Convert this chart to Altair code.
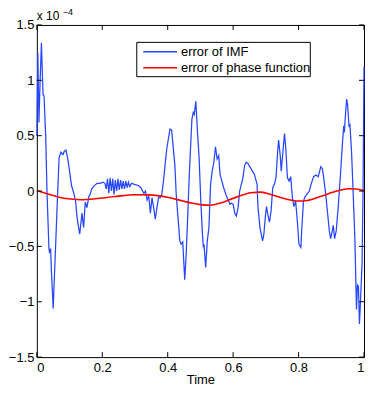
import altair as alt
import pandas as pd

# ---- data (error values in units of 1e-4) ----
t_imf = [
    0.000, 0.003, 0.0065, 0.009, 0.014, 0.019, 0.022, 0.027, 0.031, 0.037,
    0.039, 0.042, 0.045, 0.050, 0.054, 0.058, 0.0625, 0.068, 0.0735, 0.080,
    0.084, 0.089, 0.094, 0.099, 0.106, 0.111, 0.118, 0.123, 0.131, 0.138,
    0.143, 0.148, 0.153, 0.159, 0.163, 0.168, 0.173, 0.184, 0.193, 0.202,
    0.208, 0.212, 0.216, 0.220, 0.224, 0.228, 0.232, 0.236, 0.240, 0.244,
    0.248, 0.252, 0.256, 0.260, 0.264, 0.268, 0.272, 0.276, 0.280, 0.284,
    0.290, 0.298, 0.310, 0.318, 0.327, 0.332, 0.337, 0.342, 0.347, 0.352,
    0.357, 0.362, 0.367, 0.372, 0.377, 0.382, 0.387, 0.397, 0.407, 0.412,
    0.422, 0.426, 0.437, 0.441, 0.446, 0.452, 0.456, 0.461, 0.466, 0.474,
    0.478, 0.481, 0.486, 0.491, 0.496, 0.501, 0.506, 0.509, 0.511, 0.516,
    0.521, 0.526, 0.531, 0.536, 0.541, 0.546, 0.551, 0.556, 0.560, 0.571,
    0.580, 0.585, 0.590, 0.595, 0.600, 0.605, 0.610, 0.615, 0.620, 0.630,
    0.635, 0.640, 0.645, 0.655, 0.665, 0.673, 0.676, 0.682, 0.690, 0.694,
    0.699, 0.702, 0.706, 0.711, 0.716, 0.721, 0.726, 0.731, 0.736, 0.739,
    0.744, 0.747, 0.752, 0.757, 0.761, 0.766, 0.771, 0.776, 0.781, 0.786,
    0.791, 0.797, 0.801, 0.807, 0.810, 0.815, 0.820, 0.825, 0.833, 0.838,
    0.846, 0.853, 0.860, 0.868, 0.873, 0.878, 0.883, 0.888, 0.894, 0.898,
    0.903, 0.906, 0.910, 0.915, 0.921, 0.928, 0.935, 0.938, 0.940, 0.944,
    0.947, 0.950, 0.954, 0.957, 0.962, 0.967, 0.972, 0.977, 0.980, 0.983,
    0.986, 0.989, 0.994, 0.997, 1.000,
]
err_imf = [
    0.50, 1.25, 0.62, 0.90, 1.34, 0.87, 0.86, 0.50, 0.00, -0.52,
    -0.56, -0.52, -0.75, -1.06, -0.75, -0.45, -0.10, 0.30, 0.35, 0.33,
    0.36, 0.37, 0.30, 0.20, 0.05, 0.00, -0.08, -0.24, -0.39, -0.20,
    -0.33, -0.10, -0.15, -0.05, -0.03, 0.02, 0.04, 0.07, 0.07, 0.08,
    0.07, 0.02, 0.11, -0.02, 0.12, 0.00, 0.11, -0.03, 0.10, 0.00,
    0.11, 0.01, 0.10, 0.02, 0.09, 0.02, 0.09, 0.03, 0.08, 0.04,
    0.07, 0.06, 0.05, 0.03, -0.02, 0.00, -0.08, -0.04, -0.20, -0.06,
    -0.15, -0.255, -0.15, -0.06, -0.06, -0.03, 0.09, 0.38, 0.56, 0.55,
    0.23, -0.03, -0.45, -0.48, -0.46, -0.80, -0.60, -0.24, 0.15, 0.65,
    0.71, 0.69, 0.81, 0.53, 0.30, -0.08, -0.38, -0.51, -0.48, -0.69,
    -0.45, -0.33, 0.06, 0.18, 0.26, 0.40, 0.29, 0.32, 0.15, 0.03,
    -0.05, -0.08, -0.12, -0.11, -0.12, -0.20, -0.225, -0.15, 0.00, 0.12,
    0.23, 0.26, 0.25, 0.20, 0.15, 0.06, -0.15, -0.33, -0.45, -0.39,
    -0.21, -0.14, -0.21, -0.28, -0.18, 0.03, 0.06, 0.12, 0.35, 0.46,
    0.32, 0.18, 0.35, 0.52, 0.38, 0.12, 0.09, 0.13, -0.06, -0.14,
    -0.09, -0.30, -0.48, -0.51, -0.33, -0.09, -0.05, -0.03, 0.00, 0.06,
    0.13, 0.145, 0.13, 0.22, 0.20, 0.09, -0.03, -0.18, -0.36, -0.43,
    -0.36, -0.31, -0.43, -0.36, -0.15, 0.15, 0.47, 0.59, 0.53, 0.72,
    0.83, 0.77, 0.59, 0.60, 0.35, -0.03, -0.42, -1.07, -0.85, -0.86,
    -1.20, -1.01, -0.66, -0.03, 1.12,
]
t_phase = [0.000, 0.045, 0.089, 0.134, 0.179, 0.238, 0.298, 0.342, 0.402, 0.446,
           0.475, 0.506, 0.530, 0.565, 0.610, 0.655, 0.685, 0.720, 0.759, 0.798,
           0.827, 0.869, 0.917, 0.952, 0.976, 1.000]
err_phase = [0.005, -0.035, -0.068, -0.078, -0.070, -0.050, -0.033, -0.035, -0.058, -0.090,
             -0.110, -0.125, -0.128, -0.105, -0.055, -0.015, -0.010, -0.035, -0.070, -0.090,
             -0.085, -0.047, 0.000, 0.020, 0.018, 0.003]

series_names = ["error of IMF", "error of phase function"]
series_colors = ["#2646ff", "#ff0000"]
x_ticks = [0, 0.2, 0.4, 0.6, 0.8, 1]
y_ticks = [-1.5, -1, -0.5, 0, 0.5, 1, 1.5]

W, H = 329, 334
FONT = "Liberation Sans"

df_imf = pd.DataFrame({"t": t_imf, "err": err_imf})
df_phase = pd.DataFrame({"t": t_phase, "err": err_phase})
df_xt = pd.DataFrame({"t": x_ticks})
df_yt = pd.DataFrame({"err": y_ticks})
one = pd.DataFrame({"a": [0]})

x_axis = alt.Axis(values=x_ticks, format="~g", title="Time", ticks=False, domain=False,
                  grid=False, labelPadding=4, titlePadding=0)
y_axis = alt.Axis(values=y_ticks, format="~g", title=None, ticks=False, domain=False,
                  grid=False, labelPadding=3)
x_enc = alt.X("t:Q", scale=alt.Scale(domain=[0, 1], nice=False, zero=False), axis=x_axis)
y_enc = alt.Y("err:Q", scale=alt.Scale(domain=[-1.5, 1.5], nice=False, zero=False), axis=y_axis)

imf_line = alt.Chart(df_imf).mark_line(color=series_colors[0], strokeWidth=1.25).encode(x=x_enc, y=y_enc)
phase_line = alt.Chart(df_phase).mark_line(color=series_colors[1], strokeWidth=1.6,
                                           interpolate="monotone").encode(x=x_enc, y=y_enc)

TL = 5
ticks = [
    alt.Chart(df_xt).mark_rule(color="black", strokeWidth=1).encode(x=x_enc, y=alt.value(H), y2=alt.value(H - TL)),
    alt.Chart(df_xt).mark_rule(color="black", strokeWidth=1).encode(x=x_enc, y=alt.value(0), y2=alt.value(TL)),
    alt.Chart(df_yt).mark_rule(color="black", strokeWidth=1).encode(y=y_enc, x=alt.value(0), x2=alt.value(TL)),
    alt.Chart(df_yt).mark_rule(color="black", strokeWidth=1).encode(y=y_enc, x=alt.value(W), x2=alt.value(W - TL)),
]

# legend box (plot origin is at page (37, 24))
legend_layers = [
    alt.Chart(one).mark_rect(fill="white", stroke="black", strokeWidth=1).encode(
        x=alt.value(100.5), x2=alt.value(275), y=alt.value(17.5), y2=alt.value(52))
]
for i, (name, col) in enumerate(zip(series_names, series_colors)):
    yy = 27 + 16 * i
    legend_layers.append(
        alt.Chart(one).mark_rule(color=col, strokeWidth=1.6 if i else 1.4).encode(
            x=alt.value(107), x2=alt.value(141), y=alt.value(yy)))
    legend_layers.append(
        alt.Chart(one).mark_text(text=name, align="left", baseline="middle", font=FONT,
                                 fontSize=13, color="black").encode(
            x=alt.value(145), y=alt.value(yy)))

exp_layers = [
    alt.Chart(one).mark_text(text="x 10", align="left", baseline="alphabetic", font=FONT,
                             fontSize=12, color="black").encode(x=alt.value(0), y=alt.value(-5)),
    alt.Chart(one).mark_text(text="\u22124", align="left", baseline="alphabetic", font=FONT,
                             fontSize=9, color="black").encode(x=alt.value(26), y=alt.value(-10)),
]

chart = alt.layer(imf_line, phase_line, *ticks, *legend_layers, *exp_layers).properties(
    width=W, height=H, autosize="none",
    padding={"left": 29, "top": 16, "right": 2, "bottom": 30},
    background="white",
).configure_view(stroke="black", strokeWidth=1).configure_axis(
    labelFont=FONT, labelFontSize=13, labelColor="black",
    titleFont=FONT, titleFontSize=13, titleFontWeight="normal", titleColor="black",
)

chart.save("out.html", embed_options={"renderer": "svg", "actions": False})
